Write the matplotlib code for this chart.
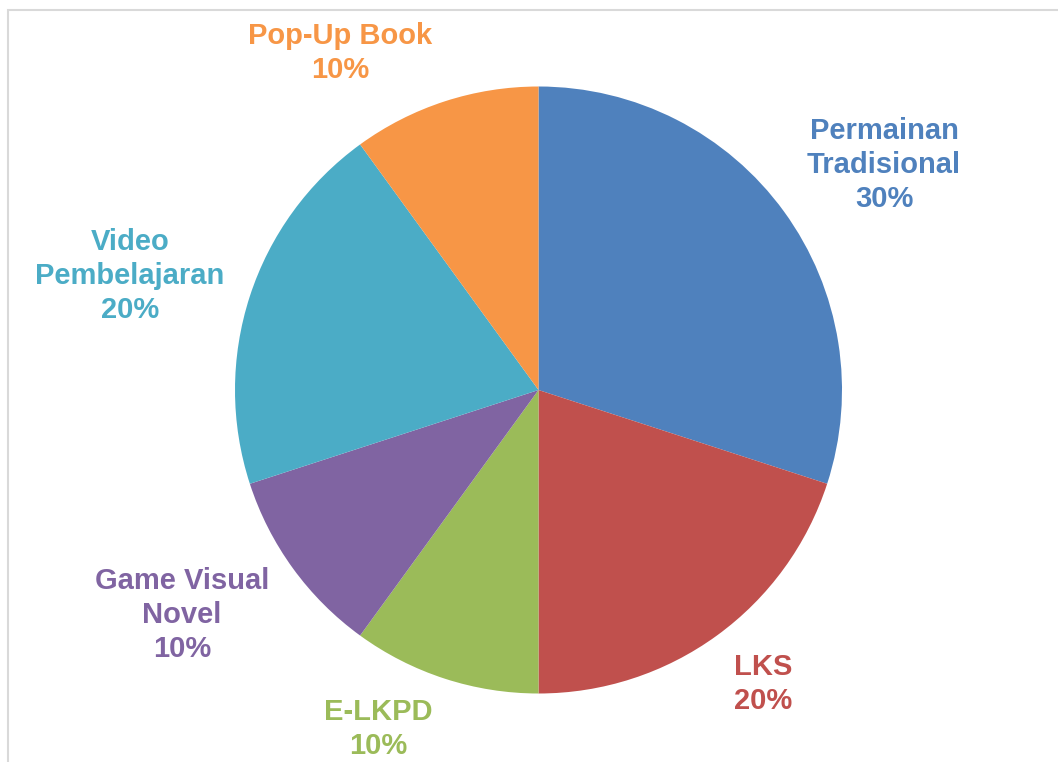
import matplotlib.pyplot as plt
from matplotlib.patches import Rectangle

plt.rcParams['font.family'] = ['Liberation Sans', 'DejaVu Sans']

categories = ['Permainan\nTradisional', 'LKS', 'E-LKPD', 'Game Visual\nNovel',
              'Video\nPembelajaran', 'Pop-Up Book']
shares = [30, 20, 10, 10, 20, 10]
colors = ['#4F81BD', '#C0504D', '#9BBB59', '#8064A2', '#4BACC6', '#F79646']

# label centres in pixel coordinates (x, y from top)
label_pos = [(884, 165), (763, 684), (378, 729), (182, 615), (130, 276), (340, 53)]

W, H = 1058, 762
fig = plt.figure(figsize=(W / 100, H / 100), dpi=100)
ax = fig.add_axes([0, 0, 1, 1])

ax.pie(shares, colors=colors, startangle=90, counterclock=False,
       center=(538.5, H - 390), radius=303.5,
       wedgeprops=dict(linewidth=0))

# pie resets the limits, so put them back to pixel units
ax.set_xlim(0, W)
ax.set_ylim(0, H)
ax.set_aspect('equal')
ax.axis('off')

# light frame around the chart area
fig.patches.append(Rectangle((8, -20), W + 40, H - 9.5 + 20, transform=None,
                             fill=False, edgecolor='#D9D9D9', linewidth=1.5))

for name, val, col, (x, y) in zip(categories, shares, colors, label_pos):
    ax.text(x, H - y, f'{name}\n{val}%', color=col, ha='center', va='center',
            fontsize=21, fontweight='bold', linespacing=1.27)

fig.savefig('out.png', dpi=100)
